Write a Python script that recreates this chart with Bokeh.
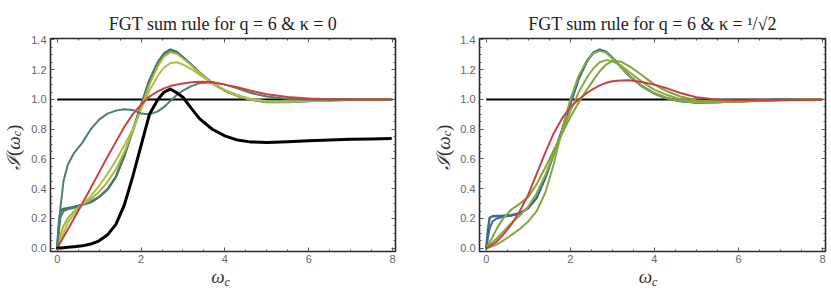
from bokeh.plotting import figure
from bokeh.layouts import row, column
from bokeh.models import FixedTicker, LinearAxis, Range1d, Div
from bokeh.embed import file_html
from bokeh.resources import INLINE

# ---------------- data ----------------
omega = [0, 0.04, 0.08, 0.15, 0.25, 0.4, 0.6, 0.8, 1.0, 1.2, 1.4, 1.6, 1.8, 2.0, 2.2,
         2.4, 2.55, 2.7, 2.85, 3.0, 3.2, 3.4, 3.7, 4.0, 4.3, 4.6, 5.0, 5.5, 6.0, 6.5,
         7.0, 7.5, 7.95]

# panel 1: q = 6, kappa = 0
k0_blue = [0, 0.17, 0.25, 0.265, 0.27, 0.277, 0.293, 0.31, 0.345, 0.395, 0.48, 0.62, 0.79,
           0.96, 1.13, 1.25, 1.31, 1.335, 1.32, 1.285, 1.235, 1.18, 1.11, 1.06, 1.025, 1.0,
           0.983, 0.983, 0.99, 0.995, 0.998, 1.0, 1.0]
k0_darkgreen = [0, 0.11, 0.21, 0.25, 0.262, 0.272, 0.29, 0.31, 0.345, 0.397, 0.482, 0.62, 0.79,
                0.955, 1.125, 1.245, 1.305, 1.328, 1.315, 1.282, 1.232, 1.178, 1.11, 1.06, 1.025,
                1.0, 0.983, 0.984, 0.99, 0.995, 0.998, 1.0, 1.0]
k0_yellowgreen = [0, 0.05, 0.09, 0.15, 0.2, 0.25, 0.295, 0.33, 0.38, 0.445, 0.53, 0.645, 0.78,
                  0.94, 1.1, 1.225, 1.29, 1.318, 1.308, 1.275, 1.23, 1.178, 1.11, 1.06, 1.025,
                  1.0, 0.985, 0.984, 0.99, 0.995, 0.998, 1.0, 1.0]
k0_olive = [0, 0.025, 0.05, 0.1, 0.17, 0.23, 0.29, 0.35, 0.42, 0.5, 0.59, 0.69, 0.8, 0.93,
            1.06, 1.16, 1.215, 1.245, 1.25, 1.235, 1.205, 1.165, 1.11, 1.065, 1.03, 1.005,
            0.988, 0.986, 0.99, 0.995, 0.998, 1.0, 1.0]
k0_teal = [0, 0.15, 0.28, 0.45, 0.56, 0.64, 0.71, 0.8, 0.865, 0.905, 0.925, 0.935, 0.93,
           0.905, 0.9, 0.92, 0.95, 0.99, 1.03, 1.06, 1.09, 1.11, 1.115, 1.1, 1.075, 1.045,
           1.02, 1.003, 0.998, 0.998, 0.999, 1.0, 1.0]
k0_red = [0, 0.02, 0.04, 0.075, 0.125, 0.2, 0.3, 0.405, 0.51, 0.615, 0.715, 0.815, 0.9,
          0.965, 1.02, 1.055, 1.075, 1.09, 1.1, 1.108, 1.116, 1.12, 1.117, 1.1, 1.082, 1.06,
          1.035, 1.017, 1.007, 1.002, 1.0, 1.0, 1.0]
k0_black = [0, 0.001, 0.002, 0.004, 0.006, 0.01, 0.016, 0.028, 0.05, 0.09, 0.16, 0.29, 0.48,
            0.69, 0.9, 1.0, 1.05, 1.07, 1.045, 1.015, 0.94, 0.87, 0.8, 0.755, 0.727, 0.715,
            0.711, 0.716, 0.723, 0.728, 0.732, 0.735, 0.737]

# panel 2: q = 6, kappa = 1/sqrt(2)
k1_blue_a = [0, 0.12, 0.205, 0.215, 0.217, 0.218, 0.222, 0.235, 0.27, 0.34, 0.47, 0.63, 0.79,
             0.97, 1.14, 1.26, 1.315, 1.335, 1.32, 1.28, 1.22, 1.16, 1.09, 1.04, 1.008, 0.99,
             0.98, 0.982, 0.988, 0.994, 0.997, 0.999, 1.0]
k1_blue_b = [0, 0.07, 0.13, 0.18, 0.2, 0.212, 0.22, 0.235, 0.27, 0.34, 0.47, 0.63, 0.79,
             0.97, 1.14, 1.26, 1.315, 1.335, 1.32, 1.28, 1.22, 1.16, 1.09, 1.04, 1.008, 0.99,
             0.98, 0.982, 0.988, 0.994, 0.997, 0.999, 1.0]
k1_green_a = [0, 0.003, 0.007, 0.014, 0.026, 0.05, 0.09, 0.13, 0.18, 0.25, 0.37, 0.56, 0.79,
              1.0, 1.16, 1.265, 1.31, 1.327, 1.315, 1.278, 1.22, 1.16, 1.09, 1.04, 1.008, 0.99,
              0.98, 0.982, 0.988, 0.994, 0.997, 0.999, 1.0]
k1_green_b = [0, 0.01, 0.02, 0.04, 0.065, 0.11, 0.17, 0.22, 0.28, 0.37, 0.49, 0.63, 0.77,
              0.92, 1.05, 1.15, 1.21, 1.25, 1.265, 1.258, 1.23, 1.185, 1.12, 1.065, 1.03,
              1.003, 0.985, 0.981, 0.986, 0.992, 0.996, 0.999, 1.0]
k1_green_c = [0, 0.02, 0.04, 0.075, 0.13, 0.2, 0.26, 0.3, 0.345, 0.43, 0.54, 0.655, 0.77,
              0.88, 0.98, 1.07, 1.13, 1.19, 1.235, 1.258, 1.255, 1.225, 1.165, 1.1, 1.055,
              1.022, 0.995, 0.984, 0.985, 0.99, 0.995, 0.998, 1.0]
k1_red = [0, 0.005, 0.012, 0.025, 0.045, 0.09, 0.16, 0.25, 0.36, 0.5, 0.64, 0.77, 0.87, 0.95,
          1.0, 1.045, 1.072, 1.095, 1.112, 1.122, 1.128, 1.13, 1.118, 1.1, 1.075, 1.045,
          1.015, 0.999, 0.995, 0.995, 0.996, 0.997, 0.998]

sum_rule_x = [0, 8]
sum_rule_y = [1, 1]

x_ticks = [0, 2, 4, 6, 8]
x_tick_labels = ["0", "2", "4", "6", "8"]
x_minor = [0.5, 1.0, 1.5, 2.5, 3.0, 3.5, 4.5, 5.0, 5.5, 6.5, 7.0, 7.5]
y_ticks = [0.0, 0.2, 0.4, 0.6, 0.8, 1.0, 1.2, 1.4]
y_tick_labels = ["0.0", "0.2", "0.4", "0.6", "0.8", "1.0", "1.2", "1.4"]
y_minor = [round(0.05 * i, 2) for i in range(0, 29) if i % 4 != 0]

titles = ["FGT sum rule for q = 6 & κ = 0", "FGT sum rule for q = 6 & κ = ¹/√2"]
SUB = "<span style='font-size:12px; vertical-align:-3px'><i>c</i></span>"
x_label_html = "<i>ω</i>" + SUB
y_label_html = "<i>ℐ</i>(<i>ω</i>" + SUB + ")"

BLUE = "#3e6896"
RED = "#c8433f"
FIG_H = 265


def style_axis(ax, ticks, minor, labels, show_labels):
    ax.ticker = FixedTicker(ticks=ticks, minor_ticks=minor)
    ax.axis_line_color = None
    ax.major_tick_in = 4
    ax.major_tick_out = 0
    ax.minor_tick_in = 2
    ax.minor_tick_out = 0
    ax.major_tick_line_color = "#555555"
    ax.minor_tick_line_color = "#555555"
    if show_labels:
        ax.major_label_overrides = {t: l for t, l in zip(ticks, labels)}
        ax.major_label_text_font = "Liberation Sans"
        ax.major_label_text_font_size = "11px"
        ax.major_label_text_color = "#666666"
        ax.major_label_standoff = 4
    else:
        ax.major_label_overrides = {t: "" for t in ticks}
        ax.major_label_text_font_size = "1px"
        ax.major_label_standoff = 0
        ax.axis_label_standoff = 0


def make_panel(title, width, border_right):
    p = figure(width=width, height=FIG_H, output_backend="svg", toolbar_location=None,
               x_range=Range1d(-0.16, 8.07), y_range=Range1d(-0.022, 1.41),
               min_border_left=22, min_border_right=border_right,
               min_border_top=38, min_border_bottom=14)
    p.title.text = title
    p.title.align = "center"
    p.title.text_font = "Liberation Serif"
    p.title.text_font_style = "normal"
    p.title.text_font_size = "18px"
    p.title.text_color = "#222222"
    p.grid.visible = False
    p.outline_line_color = "#2a2a2a"
    p.outline_line_width = 1.6

    style_axis(p.xaxis[0], x_ticks, x_minor, x_tick_labels, True)
    p.xaxis[0].major_label_standoff = 3
    style_axis(p.yaxis[0], y_ticks, y_minor, y_tick_labels, True)
    top = LinearAxis()
    style_axis(top, x_ticks, x_minor, x_tick_labels, False)
    p.add_layout(top, "above")
    right = LinearAxis()
    style_axis(right, y_ticks, y_minor, y_tick_labels, False)
    p.add_layout(right, "right")
    return p


def x_label(width, shift):
    return Div(text=x_label_html, width=width, height=293 - FIG_H, margin=(0, 0, 0, 0),
               styles={"text-align": "center", "font-family": "Liberation Serif",
                       "font-size": "19px", "color": "#333333", "line-height": "20px",
                       "padding-top": "2px", "box-sizing": "border-box",
                       "transform": f"translateX({shift}px)"})


def y_label(width, shift_x, shift_y):
    return Div(text=y_label_html, width=width, height=FIG_H, margin=(0, 0, 0, 0),
               styles={"writing-mode": "vertical-rl", "text-align": "center",
                       "font-family": "Liberation Serif", "font-size": "19px",
                       "color": "#333333", "line-height": f"{width}px",
                       "transform": f"translate({shift_x}px, {shift_y}px) rotate(180deg)"})


def curve(p, ys, color, width=2.0):
    p.line(omega, ys, line_color=color, line_width=width, line_join="round", line_cap="round")


p1 = make_panel(titles[0], 409, 42)
p1.line(sum_rule_x, sum_rule_y, line_color="black", line_width=2)
curve(p1, k0_blue, BLUE, 2.4)
curve(p1, k0_darkgreen, "#4a7c62")
curve(p1, k0_yellowgreen, "#a8b63c")
curve(p1, k0_olive, "#b3bb4a")
curve(p1, k0_teal, "#4f7e6c")
curve(p1, k0_red, RED)
curve(p1, k0_black, "black", 3.0)

p2 = make_panel(titles[1], 374, 6)
p2.line(sum_rule_x, sum_rule_y, line_color="black", line_width=2)
curve(p2, k1_blue_a, BLUE, 2.4)
curve(p2, k1_blue_b, BLUE, 2.0)
curve(p2, k1_green_a, "#86a83c")
curve(p2, k1_green_b, "#8aab40")
curve(p2, k1_green_c, "#80a63a")
curve(p2, k1_red, RED)

layout = row(y_label(28, 0, 15), column(p1, x_label(409, -12)),
             y_label(20, -3, 15), column(p2, x_label(374, 4)))
open("out.html", "w").write(file_html(layout, INLINE))
